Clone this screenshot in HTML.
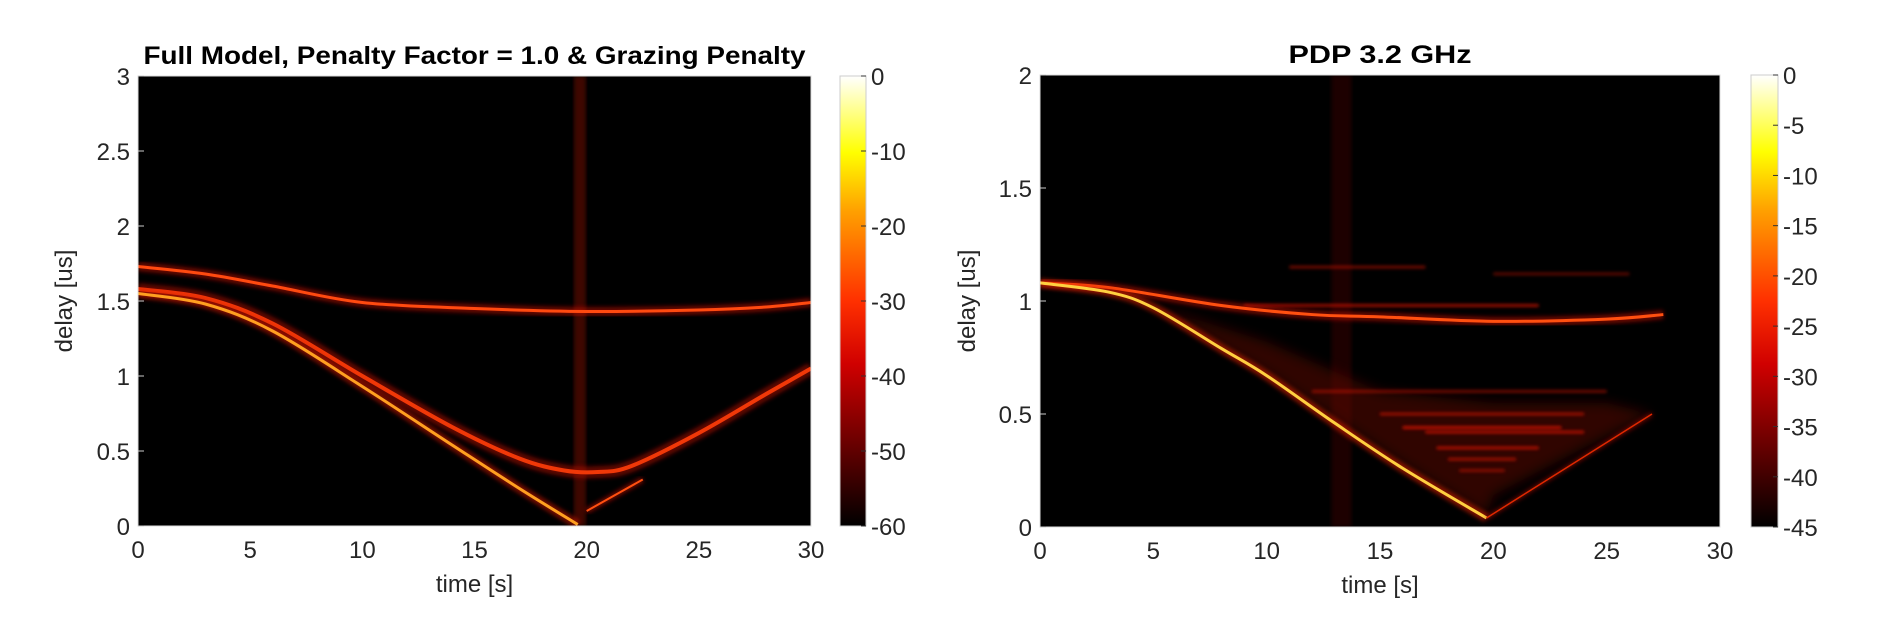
<!DOCTYPE html>
<html><head><meta charset="utf-8"><style>
html,body{margin:0;padding:0;background:#fff;width:1890px;height:642px;overflow:hidden}
text{font-family:"Liberation Sans",sans-serif}
</style></head><body>
<svg id="fig" width="1890" height="642" xmlns="http://www.w3.org/2000/svg">
<defs>
<linearGradient id="hot" x1="0" y1="1" x2="0" y2="0">
<stop offset="0" stop-color="#000"/><stop offset="0.36" stop-color="#d00000"/><stop offset="0.5" stop-color="#ff3000"/>
<stop offset="0.7" stop-color="#ffa000"/><stop offset="0.83" stop-color="#ffff00"/><stop offset="1" stop-color="#fff"/>
</linearGradient>
<filter id="glow" x="-10%" y="-10%" width="120%" height="120%"><feGaussianBlur stdDeviation="2.2"/></filter>
<filter id="sglow" filterUnits="userSpaceOnUse" x="0" y="0" width="1890" height="642"><feGaussianBlur stdDeviation="1.6"/></filter>
<filter id="soft" x="-10%" y="-10%" width="120%" height="120%"><feGaussianBlur stdDeviation="6"/></filter>
</defs>
<g id="layer"></g>
</svg>
<script>
// ---------- data ----------
const leftTicksX = [0,5,10,15,20,25,30];
const leftTicksY = [0,0.5,1,1.5,2,2.5,3];
const leftTickLabelsY = ["0","0.5","1","1.5","2","2.5","3"];
const leftCbTicks = [0,-10,-20,-30,-40,-50,-60];
const rightTicksY = [0,0.5,1,1.5,2];
const rightTickLabelsY = ["0","0.5","1","1.5","2"];
const rightCbTicks = [0,-5,-10,-15,-20,-25,-30,-35,-40,-45];

const leftUpperT = [0,3,6,10,15,20,25,28,30];
const leftUpperD = [1.73,1.68,1.6,1.49,1.45,1.43,1.44,1.46,1.49];
const leftDirectT = [0,3,6,10,14,17,19.6];
const leftDirectD = [1.55,1.48,1.3,0.93,0.54,0.25,0.01];
const leftBandT = [0,3,6,10,14,17,19,20.5,22,25,28,30];
const leftBandD = [1.58,1.52,1.35,1.0,0.66,0.45,0.37,0.36,0.4,0.62,0.88,1.05];
const leftSmallT = [20,22.5];
const leftSmallD = [0.1,0.31];
const leftStripeT = 19.7;

const rightUpperT = [0,3,8,12,15,20,25,27.5];
const rightUpperD = [1.08,1.06,0.98,0.94,0.93,0.91,0.92,0.94];
const rightDirectT = [0,3,5,8,10,13,16,19.7];
const rightDirectD = [1.08,1.04,0.97,0.79,0.67,0.46,0.26,0.04];
const rightRiseT = [19.7,27];
const rightRiseD = [0.04,0.5];
const rightCloudT = [5,10,15,20,25,27,24,20,19.7,16,10];
const rightCloudD = [0.98,0.82,0.6,0.55,0.55,0.5,0.35,0.14,0.05,0.28,0.68];
const rightStreakStart = [12,15,16,17,17.5,18,18.5,11,20,9];
const rightStreakEnd = [25,24,23,24,22,21,20.5,17,26,22];
const rightStreakD = [0.6,0.5,0.44,0.42,0.35,0.3,0.25,1.15,1.12,0.98];
const rightStreakLevel = [0.5,0.6,0.8,0.7,0.7,0.6,0.5,0.5,0.4,0.7];
const rightStripeT = 13.3;

// ---------- helpers ----------
const NS="http://www.w3.org/2000/svg";
const layer=document.getElementById('layer');
function mk(tag,attrs,parent){const e=document.createElementNS(NS,tag);for(const k in attrs)e.setAttribute(k,attrs[k]);(parent||layer).appendChild(e);return e;}
function txt(x,y,s,size,anchor,parent,extra){const t=mk('text',Object.assign({x:x,y:y,'font-size':size,'text-anchor':anchor||'middle',fill:'#262626'},extra||{}),parent);t.textContent=s;return t;}
function pathFrom(T,D,sx,sy){let s='';const n=T.length;
  const P=T.map((t,i)=>[sx(t),sy(D[i])]);
  s='M'+P[0][0]+','+P[0][1];
  for(let i=0;i<n-1;i++){const p0=P[Math.max(i-1,0)],p1=P[i],p2=P[i+1],p3=P[Math.min(i+2,n-1)];
    const c1=[p1[0]+(p2[0]-p0[0])/6,p1[1]+(p2[1]-p0[1])/6],c2=[p2[0]-(p3[0]-p1[0])/6,p2[1]-(p3[1]-p1[1])/6];
    s+=' C'+c1+' '+c2+' '+p2;}
  return s;}

function axes(cfg){
  const g=mk('g',{});
  
  
  const {x0,x1,y0,y1}=cfg;
  const sx=t=>x0+(t-0)/30*(x1-x0);
  const sy=d=>y1-d/cfg.ymax*(y1-y0);
  const bg=mk('rect',{x:x0,y:y0,width:x1-x0,height:y1-y0,fill:'#000'},g);
  
  
  const clipId='c'+cfg.name;
  const cp=mk('clipPath',{id:clipId},g);mk('rect',{x:x0,y:y0,width:x1-x0,height:y1-y0},cp);
  const inner=mk('g',{'clip-path':'url(#'+clipId+')'},g);
  cfg.draw(inner,sx,sy);
  mk('rect',{x:x0,y:y0,width:x1-x0,height:y1-y0,fill:'none',stroke:'#ddd','stroke-width':1},g);
  leftTicksX.forEach(t=>{const l=txt(sx(t),y1+32,String(t),24,'middle',g);
    
    });
  cfg.ty.forEach((d,i)=>{mk('line',{x1:x0,x2:x0+6,y1:sy(d),y2:sy(d),stroke:'#ccc'},g);
    const l=txt(x0-8,sy(d)+9,cfg.tl[i],24,'end',g);
    
    });
  const xl=txt((x0+x1)/2,y1+66,'time [s]',24,'middle',g);
  
  
  const yl=txt(0,0,'delay [us]',24,'middle',g,{transform:'translate('+(cfg.ylx)+','+((y0+y1)/2)+') rotate(-90)'});
  
  
  const ti=txt((x0+x1)/2,y0-12,cfg.title,25,'middle',g,{'font-weight':'bold',fill:'#000',textLength:cfg.titleLen,lengthAdjust:'spacingAndGlyphs'});
  
  
  const cb=mk('g',{},g);
  
  
  mk('rect',{x:cfg.cbx0,y:y0,width:cfg.cbx1-cfg.cbx0,height:y1-y0,fill:'url(#hot)',stroke:'#ccc'},cb);
  const mn=cfg.cb[cfg.cb.length-1];
  cfg.cb.forEach(v=>{const y=y0+(v/mn)*(y1-y0);
    mk('line',{x1:cfg.cbx1-5,x2:cfg.cbx1,y1:y,y2:y,stroke:'#333'},cb);
    const l=txt(cfg.cbx1+5,y+9,String(v),24,'start',cb);
    
    });
}
function curve(par,T,D,sx,sy,color,w,core,name){
  const p=pathFrom(T,D,sx,sy);
  const a=mk('path',{d:p,fill:'none',stroke:color,'stroke-width':w*3,opacity:0.55,filter:'url(#glow)'},par);
  
  
  const b=mk('path',{d:p,fill:'none',stroke:core,'stroke-width':w},par);
  
  
}

axes({name:'left-chart',x0:138,x1:811,y0:76,y1:526,ymax:3,ty:leftTicksY,tl:leftTickLabelsY,ylx:72,
  title:'Full Model, Penalty Factor = 1.0 & Grazing Penalty',titleLen:662,cbx0:840,cbx1:866,cb:leftCbTicks,
  draw:(g,sx,sy)=>{
    const s=mk('rect',{x:sx(leftStripeT)-6,y:sy(3),width:12,height:sy(0)-sy(3),fill:'#6a0a00',opacity:0.6,filter:'url(#glow)'},g);
    
    
    curve(g,leftUpperT,leftUpperD,sx,sy,'#c01000',3,'#ff4a10','upper-path');
    curve(g,leftBandT,leftBandD,sx,sy,'#b00c00',4,'#f03808','reflection-band');
    curve(g,leftDirectT,leftDirectD,sx,sy,'#d01800',3,'#ffa020','direct-path');
    curve(g,leftSmallT,leftSmallD,sx,sy,'#c01000',2,'#ff5010','short-segment');
  }});
axes({name:'right-chart',x0:1040,x1:1720,y0:75,y1:527,ymax:2,ty:rightTicksY,tl:rightTickLabelsY,ylx:975,
  title:'PDP 3.2 GHz',titleLen:183,cbx0:1751,cbx1:1778,cb:rightCbTicks,
  draw:(g,sx,sy)=>{
    const s=mk('rect',{x:sx(rightStripeT)-10,y:sy(2),width:20,height:sy(0)-sy(2),fill:'#3a0400',opacity:0.5,filter:'url(#glow)'},g);
    
    
    const c=mk('polygon',{points:rightCloudT.map((t,i)=>sx(t)+','+sy(rightCloudD[i])).join(' '),fill:'#6a0800',opacity:0.45,filter:'url(#soft)'},g);
    
    
    rightStreakD.forEach((d,i)=>{
      const l=mk('rect',{x:sx(rightStreakStart[i]),y:sy(d)-1.5,width:sx(rightStreakEnd[i])-sx(rightStreakStart[i]),height:3,fill:'#e01800',opacity:rightStreakLevel[i],filter:'url(#sglow)'},g);
      
      
    });
    curve(g,rightUpperT,rightUpperD,sx,sy,'#c01000',3,'#ff5010','upper-path');
    curve(g,rightDirectT,rightDirectD,sx,sy,'#e02000',3,'#ffd040','direct-path');
    curve(g,rightRiseT,rightRiseD,sx,sy,'#a00800',1.5,'#e02800','rising-path');
  }});
</script>
</body></html>
